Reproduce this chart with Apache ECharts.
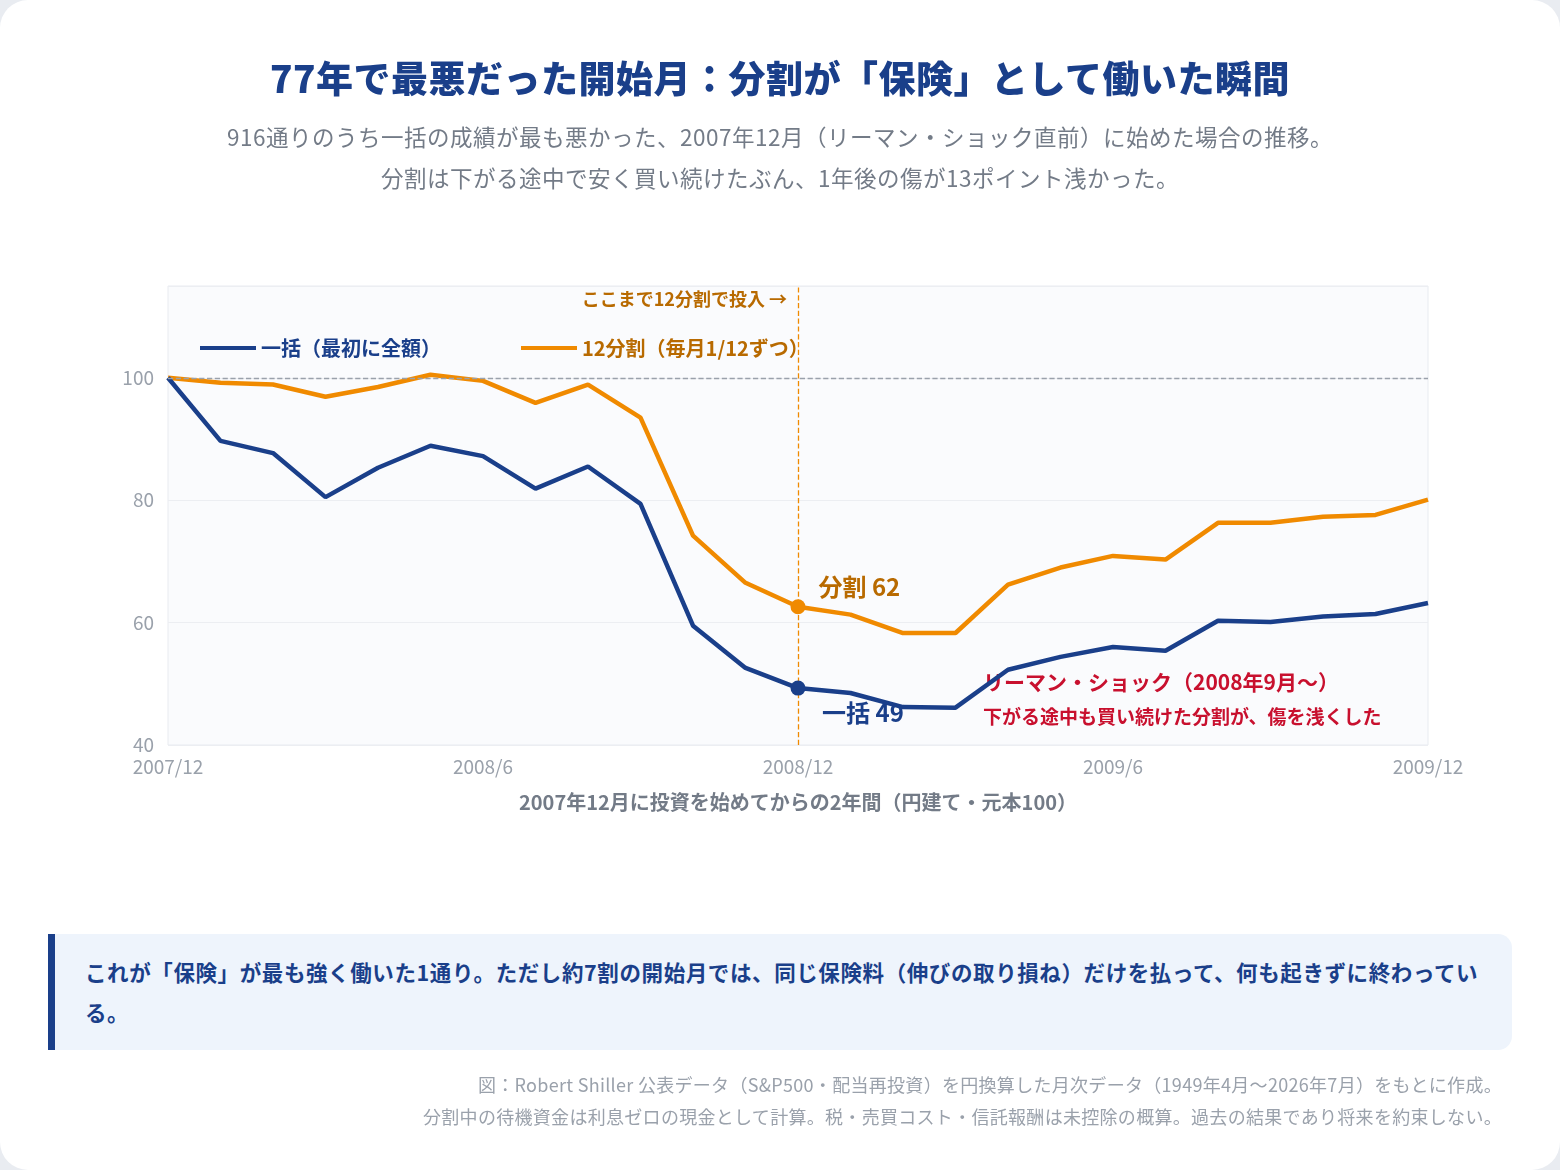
<!DOCTYPE html>
<html><head><meta charset="utf-8">
<script src="https://cdn.jsdelivr.net/npm/echarts@6/dist/echarts.min.js"></script>
<style>
html,body{margin:0;padding:0;background:#e9ecf1;font-family:"Noto Sans CJK JP","Noto Sans",sans-serif;}
#card{position:absolute;left:0;top:0;width:1560px;height:1170px;background:#fff;border-radius:28px;overflow:hidden;}
#chart{position:absolute;left:0;top:0;width:1560px;height:1170px;}
.t{position:absolute;left:0;width:1560px;text-align:center;}
#callout{position:absolute;left:48px;top:934px;width:1464px;height:116px;background:#eef4fc;border-radius:0 14px 14px 0;border-left:7px solid #1a3f8a;box-sizing:border-box;padding:18px 30px;color:#1a3f8a;font-weight:bold;font-size:21.5px;letter-spacing:0.6px;line-height:40px;}
#foot{position:absolute;right:58px;top:1068px;text-align:right;color:#9aa1ab;font-size:18px;letter-spacing:0.3px;line-height:32px;}
</style></head><body>
<div id="card">
<div id="chart"></div>
<div class="t" style="top:50px;font-size:37px;font-weight:900;color:#1a3f8a;letter-spacing:0.5px;">77年で最悪だった開始月：分割が「保険」として働いた瞬間</div>
<div class="t" style="top:116px;font-size:22.5px;color:#737b87;line-height:41px;letter-spacing:0.5px;">916通りのうち一括の成績が最も悪かった、2007年12月（リーマン・ショック直前）に始めた場合の推移。<br>分割は下がる途中で安く買い続けたぶん、1年後の傷が13ポイント浅かった。</div>
<div id="callout">これが「保険」が最も強く働いた1通り。ただし約7割の開始月では、同じ保険料（伸びの取り損ね）だけを払って、何も起きずに終わっている。</div>
<div id="foot">図：Robert Shiller 公表データ（S&amp;P500・配当再投資）を円換算した月次データ（1949年4月〜2026年7月）をもとに作成。<br>分割中の待機資金は利息ゼロの現金として計算。税・売買コスト・信託報酬は未控除の概算。過去の結果であり将来を約束しない。</div>
</div>
<script>
const months=["2007/12","2008/1","2008/2","2008/3","2008/4","2008/5","2008/6","2008/7","2008/8","2008/9","2008/10","2008/11","2008/12","2009/1","2009/2","2009/3","2009/4","2009/5","2009/6","2009/7","2009/8","2009/9","2009/10","2009/11","2009/12"];
const lumpSum=[100,89.7,87.7,80.5,85.3,88.9,87.2,81.9,85.5,79.4,59.5,52.6,49.3,48.5,46.2,46.1,52.3,54.4,56.0,55.4,60.3,60.1,61.0,61.4,63.2];
const dca12=[100,99.2,98.9,96.9,98.5,100.5,99.5,95.9,98.9,93.5,74.2,66.5,62.6,61.3,58.3,58.3,66.2,69.0,70.9,70.3,76.3,76.3,77.3,77.6,80.1];
const yTicks=[40,60,80,100];
const BLUE='#1a3f8a',ORANGE='#f08a00',RED='#c8102e';
const font='"Noto Sans CJK JP","Noto Sans",sans-serif';
const c=echarts.init(document.getElementById('chart'));
c.setOption({
 animation:false,
 textStyle:{fontFamily:font},
 grid:{left:168,right:132,top:286,bottom:425,show:true,backgroundColor:'#fafbfd',borderColor:'#e8ebf0',borderWidth:1},
 legend:{left:195,top:333,itemWidth:56,itemHeight:4,itemGap:80,icon:'rect',
   data:[{name:'一括（最初に全額）',textStyle:{color:BLUE}},{name:'12分割（毎月1/12ずつ）',textStyle:{color:'#b86a00'}}],
   textStyle:{fontSize:20,fontWeight:'bold',fontFamily:font}},
 xAxis:{type:'category',data:months,boundaryGap:false,
   axisLine:{show:false},axisTick:{show:false},
   axisLabel:{interval:5,color:'#9aa1ab',fontSize:19,margin:12},
   name:'2007年12月に投資を始めてからの2年間（円建て・元本100）',nameLocation:'middle',nameGap:47,
   nameTextStyle:{color:'#737b87',fontSize:20,fontWeight:'bold'}},
 yAxis:{type:'value',min:40,max:115,interval:20,
   axisLabel:{color:'#9aa1ab',fontSize:19,margin:14,formatter:v=>yTicks.includes(v)?v:''},
   splitLine:{lineStyle:{color:'#eceef2'}},axisLine:{show:false},axisTick:{show:false}},
 series:[
  {name:'一括（最初に全額）',type:'line',data:lumpSum,color:BLUE,lineStyle:{width:4.5,color:BLUE},showSymbol:false,z:3,
   markPoint:{symbol:'circle',symbolSize:15,itemStyle:{color:BLUE},
     data:[{coord:[12,lumpSum[12]],label:{show:true,formatter:'一括 49',position:'bottom',offset:[65,0],color:BLUE,fontSize:24,fontWeight:'bold'}}]},
   markLine:{silent:true,symbol:'none',lineStyle:{type:'dashed',color:'#9aa1ab',width:1.3},label:{show:false},data:[{yAxis:100}]}},
  {name:'12分割（毎月1/12ずつ）',type:'line',data:dca12,color:ORANGE,lineStyle:{width:4.5,color:ORANGE},showSymbol:false,z:2,
   markPoint:{symbol:'circle',symbolSize:15,itemStyle:{color:ORANGE},
     data:[{coord:[12,dca12[12]],label:{show:true,formatter:'分割 62',position:'right',offset:[8,-20],color:'#b86a00',fontSize:24,fontWeight:'bold'}}]},
   markLine:{silent:true,symbol:'none',lineStyle:{type:'dashed',color:ORANGE,width:1.3},label:{show:false},data:[{xAxis:12}]}}
 ],
 graphic:[
  {type:'text',right:1560-787,top:290,style:{text:'ここまで12分割で投入 →',fill:'#b86a00',fontSize:18,fontWeight:'bold',fontFamily:font}},
  {type:'text',left:983,top:672,style:{text:'リーマン・ショック（2008年9月〜）',fill:RED,fontSize:21,fontWeight:'bold',fontFamily:font}},
  {type:'text',left:983,top:707,style:{text:'下がる途中も買い続けた分割が、傷を浅くした',fill:RED,fontSize:19,fontWeight:'bold',fontFamily:font}}
 ]
});
</script>
</body></html>
